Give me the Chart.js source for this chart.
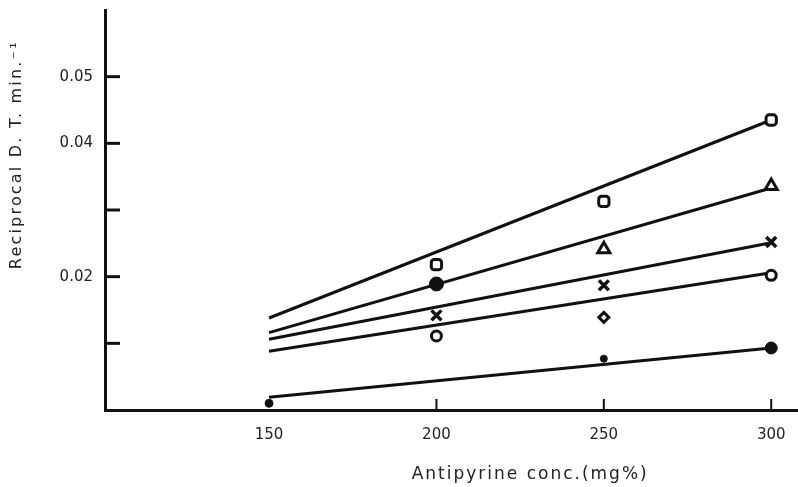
<!DOCTYPE html>
<html><head><meta charset="utf-8">
<script src="https://cdn.jsdelivr.net/npm/chart.js@4"></script>
<style>html,body{margin:0;padding:0;background:#fff}#wrap{width:798px;height:487px;position:relative}</style>
</head><body><div id="wrap"><canvas id="c"></canvas></div>
<script>
// Axis ticks
const xTickValues = [150, 200, 250, 300];
const yTickValues = [0.01, 0.02, 0.03, 0.04, 0.05];
const yTickLabels = ['', '0.02', '', '0.04', '0.05'];
const xTitle = 'Antipyrine conc.(mg%)';
const yTitle = 'Reciprocal D. T. min.\u207B\u00B9';

// Fitted lines (x = antipyrine conc., y = reciprocal D.T.)
const lineX = [150, 300];
const lineA = [0.0138, 0.0435];
const lineB = [0.0116, 0.0333];
const lineC = [0.0106, 0.0251];
const lineD = [0.0088, 0.0206];
const lineE = [0.0019, 0.0093];

// Observed points
const pointX = [200, 250, 300];
const squareVals = [0.0218, 0.0313, 0.0435];
const triangleX = [250, 300];
const triangleVals = [0.0241, 0.0336];
const crossVals = [0.0142, 0.0187, 0.0252];
const ringVals = [0.0111, 0.0139, 0.0202];
const dotX = [150, 200, 250, 300];
const dotVals = [0.0010, 0.0189, 0.0077, 0.0093];

const pts = (xs, ys) => xs.map((x, i) => ({x: x, y: ys[i]}));
const BLACK = '#111';

function lineDs(vals) {
  return {type: 'line', data: pts(lineX, vals), borderColor: BLACK, borderWidth: 3,
          pointRadius: 0, fill: false, tension: 0, order: 2};
}
function markDs(xs, vals, extra) {
  return Object.assign({type: 'scatter', data: pts(xs, vals), showLine: false,
    borderColor: BLACK, backgroundColor: '#fff', borderWidth: 3, order: 1}, extra);
}

const FONT = '"DejaVu Sans", sans-serif';

const titlePlugin = {
  id: 'titles',
  afterDraw(chart) {
    const ctx = chart.ctx;
    const xs = chart.scales.x, ys = chart.scales.y;
    ctx.save();
    // inner tick marks on y axis
    ctx.strokeStyle = BLACK; ctx.lineWidth = 3;
    yTickValues.forEach(v => {
      const py = ys.getPixelForValue(v);
      ctx.beginPath(); ctx.moveTo(xs.left, py); ctx.lineTo(xs.left + 15, py); ctx.stroke();
    });
    ctx.lineWidth = 2;
    xTickValues.slice(1).forEach(v => {
      const px = xs.getPixelForValue(v);
      ctx.beginPath(); ctx.moveTo(px, ys.bottom); ctx.lineTo(px, ys.bottom - 11); ctx.stroke();
    });
    // axis titles
    ctx.fillStyle = '#222';
    ctx.textAlign = 'center'; ctx.textBaseline = 'middle';
    ctx.font = '17px ' + FONT;
    try { ctx.letterSpacing = '2px'; } catch (e) {}
    ctx.fillText(xTitle, xs.getPixelForValue(228), 475);
    ctx.translate(17, ys.getPixelForValue(0.0383));
    ctx.rotate(-Math.PI / 2);
    ctx.font = '16px ' + FONT;
    try { ctx.letterSpacing = '2.2px'; } catch (e) {}
    ctx.fillText(yTitle, 0, 0);
    ctx.restore();
  }
};

new Chart(document.getElementById('c'), {
  data: {
    datasets: [
      lineDs(lineA), lineDs(lineB), lineDs(lineC), lineDs(lineD), lineDs(lineE),
      markDs(pointX, squareVals, {pointStyle: 'rectRounded', pointRadius: 6}),
      markDs(triangleX, triangleVals, {pointStyle: 'triangle', pointRadius: 7}),
      markDs(pointX, crossVals, {pointStyle: 'crossRot', pointRadius: 7, borderWidth: 3.5}),
      markDs(pointX, ringVals, {pointStyle: ['circle', 'rectRot', 'circle'], pointRadius: 5}),
      markDs(dotX, dotVals, {pointStyle: 'circle', pointRadius: [4, 7, 3.5, 6], backgroundColor: BLACK, borderWidth: 1})
    ]
  },
  options: {
    responsive: true, maintainAspectRatio: false, animation: false,
    layout: {autoPadding: false, padding: {top: 10, right: 0, left: 0, bottom: 0}},
    plugins: {legend: {display: false}, tooltip: {enabled: false}, title: {display: false}},
    scales: {
      x: {
        type: 'linear', position: 'bottom', min: 101, max: 308,
        afterBuildTicks: (axis) => { axis.ticks = xTickValues.map(v => ({value: v})); },
        afterFit: (scale) => { scale.height = 77; scale.paddingLeft = 0; scale.paddingRight = 0; },
        grid: {display: false, drawTicks: false},
        border: {display: true, color: BLACK, width: 3},
        ticks: {color: '#222', font: {family: FONT, size: 15}, padding: 16,
                callback: (v) => String(v), maxRotation: 0}
      },
      y: {
        type: 'linear', min: 0, max: 0.06,
        afterBuildTicks: (axis) => { axis.ticks = yTickValues.map(v => ({value: v})); },
        afterFit: (scale) => { scale.width = 105; scale.paddingTop = 0; scale.paddingBottom = 0; },
        grid: {display: false, drawTicks: false},
        border: {display: true, color: BLACK, width: 3},
        ticks: {color: '#222', font: {family: FONT, size: 15}, padding: 12,
                callback: (v, i) => yTickLabels[i]}
      }
    }
  },
  plugins: [titlePlugin]
});
</script>
</body></html>
